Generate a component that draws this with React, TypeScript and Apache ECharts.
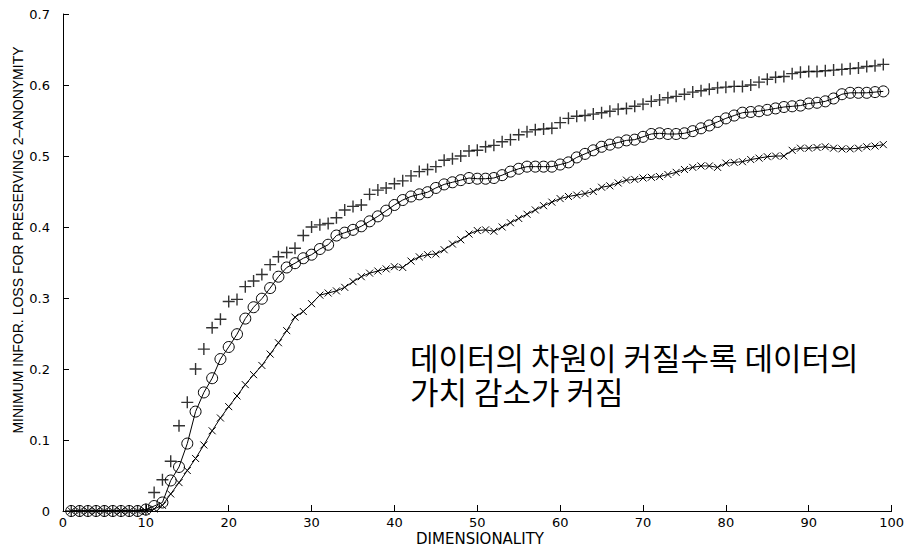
import React, { useEffect, useRef } from "react";
import * as echarts from "echarts";

const dims = [1,2,3,4,5,6,7,8,9,10,11,12,13,14,15,16,17,18,19,20,21,22,23,24,25,26,27,28,29,30,31,32,33,34,35,36,37,38,39,40,41,42,43,44,45,46,47,48,49,50,51,52,53,54,55,56,57,58,59,60,61,62,63,64,65,66,67,68,69,70,71,72,73,74,75,76,77,78,79,80,81,82,83,84,85,86,87,88,89,90,91,92,93,94,95,96,97,98,99];

const plusValues = [
  0,0,0,0,0,0,0,0,0,0.002,
  0.026,0.044,0.070,0.120,0.153,0.200,0.228,0.258,0.270,0.295,
  0.298,0.316,0.324,0.333,0.347,0.358,0.364,0.370,0.388,0.400,
  0.403,0.405,0.413,0.424,0.429,0.431,0.446,0.452,0.455,0.461,
  0.465,0.472,0.478,0.481,0.485,0.494,0.496,0.500,0.507,0.508,
  0.513,0.515,0.520,0.523,0.530,0.534,0.537,0.538,0.539,0.547,
  0.553,0.556,0.557,0.559,0.561,0.563,0.566,0.567,0.570,0.573,
  0.577,0.579,0.582,0.584,0.587,0.590,0.592,0.594,0.596,0.597,
  0.598,0.598,0.600,0.604,0.608,0.611,0.612,0.616,0.618,0.619,
  0.619,0.620,0.621,0.622,0.623,0.624,0.626,0.627,0.629,
];

const circleValues = [
  0,0,0,0,0,0,0,0,0,0.002,
  0.007,0.012,0.043,0.062,0.095,0.140,0.167,0.187,0.214,0.231,
  0.249,0.271,0.287,0.299,0.314,0.330,0.343,0.349,0.356,0.361,
  0.369,0.375,0.388,0.392,0.396,0.401,0.408,0.415,0.423,0.431,
  0.438,0.443,0.446,0.449,0.455,0.460,0.463,0.466,0.469,0.468,
  0.468,0.469,0.473,0.478,0.482,0.485,0.485,0.485,0.485,0.488,
  0.491,0.498,0.503,0.508,0.513,0.516,0.519,0.522,0.523,0.527,
  0.531,0.532,0.531,0.531,0.532,0.535,0.539,0.543,0.548,0.553,
  0.557,0.561,0.562,0.563,0.565,0.567,0.569,0.570,0.571,0.574,
  0.575,0.577,0.581,0.587,0.589,0.589,0.589,0.590,0.591,
];

const crossValues = [
  0,0,0,0,0,0,0,0,0,0,
  0.003,0.008,0.024,0.040,0.057,0.074,0.093,0.113,0.131,0.147,
  0.162,0.178,0.192,0.205,0.221,0.237,0.254,0.273,0.281,0.292,
  0.304,0.307,0.310,0.315,0.323,0.330,0.335,0.338,0.341,0.344,
  0.343,0.352,0.358,0.361,0.362,0.368,0.376,0.382,0.390,0.395,
  0.396,0.394,0.400,0.406,0.412,0.418,0.424,0.430,0.435,0.440,
  0.443,0.445,0.447,0.450,0.456,0.458,0.462,0.466,0.467,0.469,
  0.470,0.471,0.474,0.477,0.481,0.484,0.486,0.486,0.484,0.490,
  0.491,0.492,0.495,0.497,0.499,0.500,0.500,0.508,0.511,0.511,
  0.512,0.513,0.511,0.510,0.510,0.511,0.513,0.514,0.516,
];

const xTicks = [0, 10, 20, 30, 40, 50, 60, 70, 80, 90, 100];
const yTicks = [0, 0.1, 0.2, 0.3, 0.4, 0.5, 0.6, 0.7];

const xTitle = "DIMENSIONALITY";
const yTitle = "MINIMUM INFOR. LOSS FOR PRESERVING 2–ANONYMITY";
const noteLines = ["데이터의 차원이 커질수록 데이터의", "가치 감소가 커짐"];

const FONT = "'DejaVu Sans', 'Liberation Sans', Arial, sans-serif";
const KFONT = "'Noto Sans CJK KR', 'Noto Sans', sans-serif";

export default function App() {
  const ref = useRef<HTMLDivElement>(null);
  useEffect(() => {
    if (!ref.current) return;
    const chart = echarts.init(ref.current, null, { renderer: "svg" });
    const pairs = (vals: number[]) => dims.map((d, i) => [d, vals[i]]);
    chart.setOption({
      animation: false,
      backgroundColor: "#ffffff",
      grid: { left: 63, right: 12, top: 14, bottom: 36, containLabel: false },
      xAxis: {
        type: "value",
        min: xTicks[0],
        max: xTicks[xTicks.length - 1],
        interval: 10,
        axisLine: { show: true, lineStyle: { color: "#000", width: 1 } },
        axisTick: { show: true, inside: true, length: 6, lineStyle: { color: "#000" } },
        axisLabel: { color: "#000", fontSize: 13, fontFamily: FONT, margin: 5 },
        splitLine: { show: false },
      },
      yAxis: {
        type: "value",
        min: yTicks[0],
        max: yTicks[yTicks.length - 1],
        interval: 0.1,
        axisLine: { show: true, lineStyle: { color: "#000", width: 1 } },
        axisTick: { show: true, inside: true, length: 6, lineStyle: { color: "#000" } },
        axisLabel: {
          color: "#000",
          fontSize: 13,
          fontFamily: FONT,
          margin: 13,
          formatter: (v: number) => (v === 0 ? "0" : v.toFixed(1)),
        },
        splitLine: { show: false },
      },
      graphic: [
        {
          type: "text",
          x: 18,
          y: 240,
          rotation: Math.PI / 2,
          style: {
            text: yTitle,
            fontSize: 14,
            fontFamily: "'Liberation Sans', Arial, sans-serif",
            fill: "#000",
            align: "center",
            verticalAlign: "middle",
          },
        },
        {
          type: "text",
          x: 480,
          y: 531,
          style: {
            text: xTitle,
            fontSize: 15,
            fontFamily: FONT,
            fill: "#000",
            align: "center",
            verticalAlign: "top",
          },
        },
        {
          type: "text",
          x: 410,
          y: 339,
          style: {
            text: noteLines.join("\n"),
            fontSize: 31,
            lineHeight: 34,
            fontFamily: KFONT,
            fill: "#000",
            align: "left",
            verticalAlign: "top",
          },
        },
      ],
      series: [
        {
          name: "plus",
          type: "scatter",
          data: pairs(plusValues),
          symbol: "path://M0,5L10,5M5,0L5,10",
          symbolSize: 12,
          itemStyle: { color: "transparent", borderColor: "#000", borderWidth: 1.4 },
          z: 3,
        },
        {
          name: "circle",
          type: "line",
          data: pairs(circleValues),
          symbol: "circle",
          symbolSize: 11,
          showAllSymbol: true,
          lineStyle: { color: "#000", width: 1 },
          itemStyle: { color: "transparent", borderColor: "#000", borderWidth: 1 },
          z: 2,
        },
        {
          name: "cross",
          type: "line",
          data: pairs(crossValues),
          symbol: "path://M0,0L10,10M10,0L0,10",
          symbolSize: 7,
          showAllSymbol: true,
          lineStyle: { color: "#000", width: 1 },
          itemStyle: { color: "transparent", borderColor: "#000", borderWidth: 1 },
          z: 2,
        },
      ],
    });
    return () => chart.dispose();
  }, []);
  return (
    <div
      ref={ref}
      style={{ position: "fixed", left: 0, top: 0, width: 907, height: 547, background: "#fff" }}
    />
  );
}
